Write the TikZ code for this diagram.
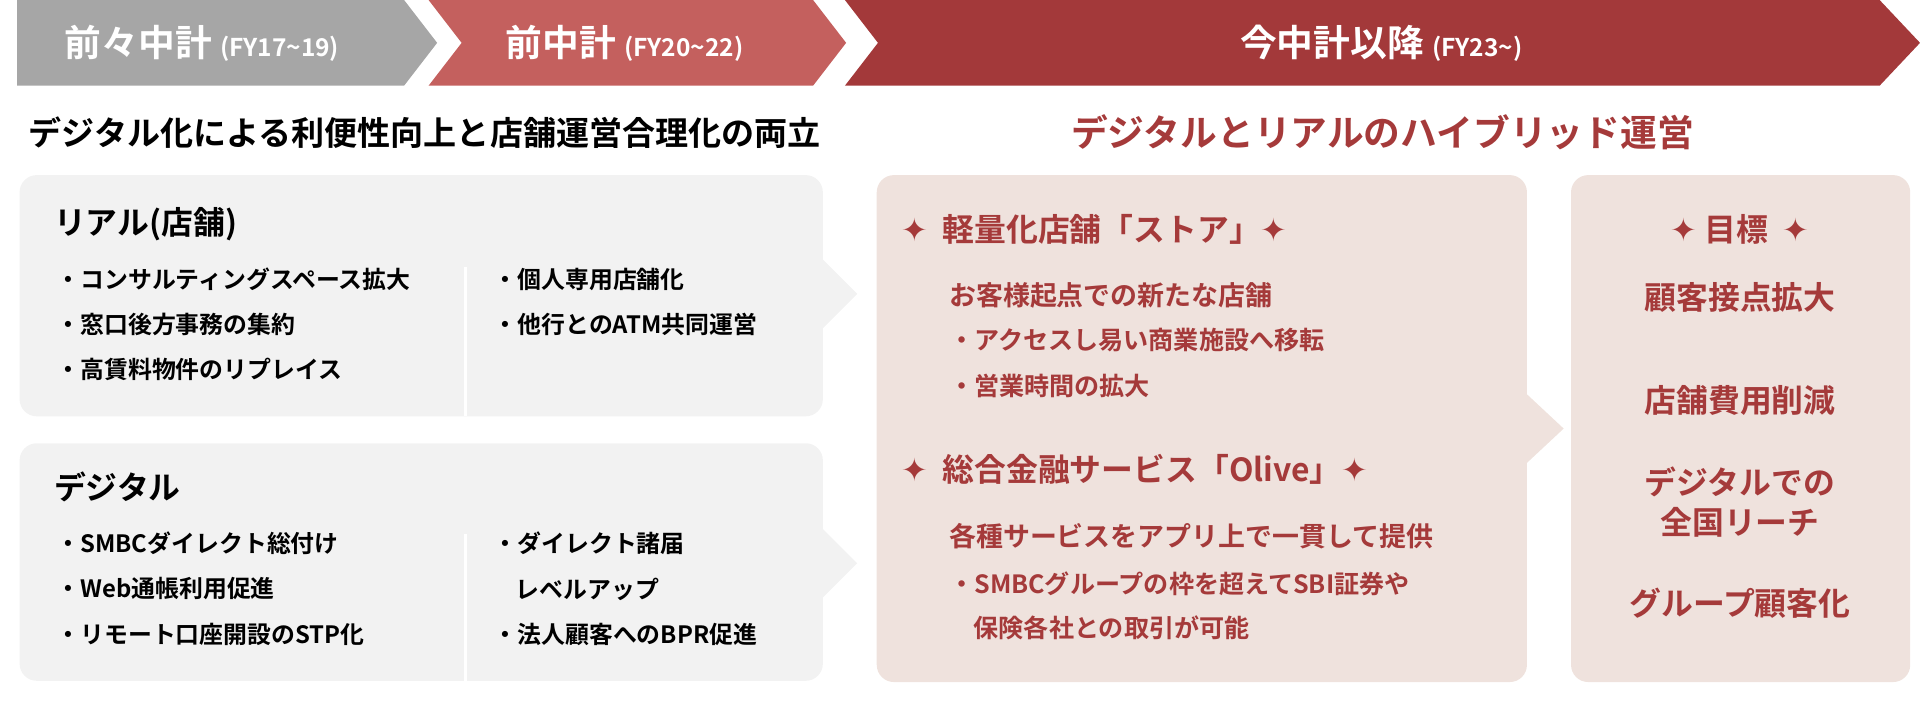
\documentclass[tikz,border=0pt]{standalone}
\usepackage{fontspec}
\setmainfont{Noto Sans CJK JP}[BoldFont={Noto Sans CJK JP Bold}]
\newfontfamily\symf{DejaVu Sans}
\newcommand{\dia}{{\symf ✦}}
\definecolor{hgray}{HTML}{A6A6A6}
\definecolor{hlred}{HTML}{C4605E}
\definecolor{hdred}{HTML}{A3393A}
\definecolor{tred}{HTML}{A53A3A}
\definecolor{boxg}{HTML}{F2F2F2}
\definecolor{boxp}{HTML}{EFE2DD}
\begin{document}
\begin{tikzpicture}[x=1pt,y=-1pt,
 hd/.style={text=white,font=\bfseries\fontsize{30}{34}\selectfont},
 tt/.style={anchor=west,font=\bfseries\fontsize{27}{30}\selectfont},
 it/.style={anchor=west,font=\bfseries\fontsize{19.5}{23}\selectfont,inner sep=0},
 rt/.style={it,text=tred,font=\bfseries\fontsize{20.5}{24}\selectfont},
 gl/.style={text=tred,font=\bfseries\fontsize{26}{30}\selectfont,align=center,inner sep=0}]
\useasboundingbox (0,0) rectangle (1568,577);
% header chevrons
\fill[hgray] (14,0) -- (330,0) -- (357,35) -- (330,70) -- (14,70) -- cycle;
\fill[hlred] (350,0) -- (664,0) -- (691,35) -- (664,70) -- (350,70) -- (377,35) -- cycle;
\fill[hdred] (690,0) -- (1535,0) -- (1568,35) -- (1535,70) -- (690,70) -- (717,35) -- cycle;
\node[hd] (h1) at (165,35) {前々中計 \fontsize{20}{22}\selectfont(FY17\textasciitilde19)};
\node[hd] (h2) at (510,35) {前中計 \fontsize{20}{22}\selectfont(FY20\textasciitilde22)};
\node[hd] (h3) at (1128,35) {今中計以降 \fontsize{20}{22}\selectfont(FY23\textasciitilde)};
\node[tt] (t1) at (20,108) {デジタル化による利便性向上と店舗運営合理化の両立};
\node[tt,anchor=center,text=tred,font=\bfseries\fontsize{30}{34}\selectfont] (t2) at (1129,108) {デジタルとリアルのハイブリッド運営};
% boxes
\fill[boxg,rounded corners=14] (16,143) rectangle (672,340);
\fill[boxg] (672,212) -- (700,240) -- (672,268) -- cycle;
\draw[white,line width=2] (380,218) -- (380,340);
\fill[boxg,rounded corners=14] (16,362) rectangle (672,556);
\fill[boxg] (672,432) -- (700,460) -- (672,488) -- cycle;
\draw[white,line width=2] (380,436) -- (380,556);
\fill[boxp,rounded corners=14] (716,143) rectangle (1247,557);
\fill[boxp] (1247,322) -- (1277,350) -- (1247,378) -- cycle;
\fill[boxp,rounded corners=14] (1283,143) rectangle (1560,557);
% box1
\node[it,font=\bfseries\fontsize{26}{30}\selectfont] (r0) at (44,183) {リアル(店舗)};
\node[it] (r1) at (46,228) {・コンサルティングスペース拡大};
\node[it] (r2) at (46,265) {・窓口後方事務の集約};
\node[it] (r3) at (46,302) {・高賃料物件のリプレイス};
\node[it] (r4) at (403,228) {・個人専用店舗化};
\node[it] (r5) at (403,265) {・他行とのATM共同運営};
% box2
\node[it,font=\bfseries\fontsize{26}{30}\selectfont] (d0) at (44,398) {デジタル};
\node[it] (d1) at (46,444) {・SMBCダイレクト総付け};
\node[it] (d2) at (46,481) {・Web通帳利用促進};
\node[it] (d3) at (46,518) {・リモート口座開設のSTP化};
\node[it] (d4) at (403,444) {・ダイレクト諸届};
\node[it] (d5) at (421,481) {レベルアップ};
\node[it] (d6) at (403,518) {・法人顧客へのBPR促進};
% box3
\node[rt,font=\bfseries\fontsize{26}{30}\selectfont] (s0) at (736,187) {\dia\ \ 軽量化店舗「ストア」\dia};
\node[rt,font=\bfseries\fontsize{22}{26}\selectfont] (s1) at (775,241) {お客様起点での新たな店舗};
\node[rt] (s2) at (775,278) {・アクセスし易い商業施設へ移転};
\node[rt] (s3) at (775,315) {・営業時間の拡大};
\node[rt,font=\bfseries\fontsize{26}{30}\selectfont] (o0) at (736,383) {\dia\ \ 総合金融サービス「Olive」\dia};
\node[rt,font=\bfseries\fontsize{22}{26}\selectfont] (o1) at (775,438) {各種サービスをアプリ上で一貫して提供};
\node[rt] (o2) at (775,477) {・SMBCグループの枠を超えてSBI証券や};
\node[rt] (o3) at (795,513) {保険各社との取引が可能};
% box4
\node[gl] (g0) at (1421,187) {\dia\ 目標\ \ \dia};
\node[gl] (g1) at (1421,243) {顧客接点拡大};
\node[gl] (g2) at (1421,327) {店舗費用削減};
\node[gl,text width=250] (g3) at (1421,410) {デジタルでの\\[2pt]全国リーチ};
\node[gl] (g4) at (1421,493) {グループ顧客化};
\end{tikzpicture}
\end{document}
